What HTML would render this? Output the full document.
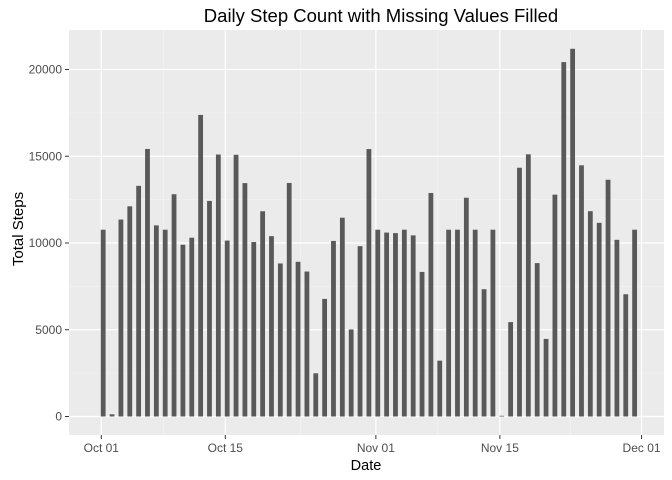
<!DOCTYPE html>
<html><head><meta charset="utf-8"><style>
body{margin:0;background:#fff;}
svg{display:block;font-family:"Liberation Sans",Arial,sans-serif;}
</style></head><body>
<svg id="chart" width="672" height="480">
<rect x="69" y="30" width="595" height="405" fill="#EBEBEB"/>
<g id="grid"></g><g id="bars"></g><g id="axes"></g>
<text x="381" y="22" text-anchor="middle" font-size="18.5" fill="#000">Daily Step Count with Missing Values Filled</text>
<text x="366" y="470" text-anchor="middle" font-size="14.5" fill="#000">Date</text>
<text x="23" y="229" text-anchor="middle" font-size="15" fill="#000" transform="rotate(-90 23 229)">Total Steps</text>
</svg>
<script>
const steps=[10766,126,11352,12116,13294,15420,11015,10766,12811,9900,10304,17382,12426,15098,10139,15084,13452,10056,11829,10395,8821,13460,8918,8355,2492,6778,10119,11458,5018,9819,15414,10766,10600,10571,10766,10439,8334,12883,3219,10766,10766,12608,10765,7336,10766,41,5441,14339,15110,8841,4472,12787,20427,21194,14478,11834,11162,13646,10183,7047,10766];
const yTicks=[0,5000,10000,15000,20000];
const xTickDays=[0,14,31,45,61];
const xTickLabels=["Oct 01","Oct 15","Nov 01","Nov 15","Dec 01"];
const NS="http://www.w3.org/2000/svg";
function x(d){return 101.3+d*8.857;}
function y(v){return 416.5-v*347/20000;}
function mk(tag,attrs,parent,txt){const e=document.createElementNS(NS,tag);for(const k in attrs)e.setAttribute(k,attrs[k]);if(txt!==undefined)e.textContent=txt;document.getElementById(parent).appendChild(e);return e;}
for(let i=0;i<yTicks.length-1;i++){const v=(yTicks[i]+yTicks[i+1])/2;const l=mk('line',{x1:69,x2:664,y1:y(v),y2:y(v),stroke:'#F5F5F5','stroke-width':0.6},'grid');

}
for(let i=0;i<xTickDays.length-1;i++){const d=(xTickDays[i]+xTickDays[i+1])/2;const l=mk('line',{x1:x(d),x2:x(d),y1:30,y2:435,stroke:'#F5F5F5','stroke-width':0.6},'grid');

}
yTicks.forEach(v=>{const l=mk('line',{x1:69,x2:664,y1:y(v),y2:y(v),stroke:'#fff','stroke-width':1.2},'grid');


mk('line',{x1:65,x2:69,y1:y(v),y2:y(v),stroke:'#333'},'axes');
const t=mk('text',{x:62,y:y(v)+4,'text-anchor':'end','font-size':12,fill:'#4D4D4D'},'axes',String(v));

});
xTickDays.forEach((d,i)=>{const l=mk('line',{x1:x(d),x2:x(d),y1:30,y2:435,stroke:'#fff','stroke-width':1.2},'grid');


mk('line',{x1:x(d),x2:x(d),y1:435,y2:439,stroke:'#333'},'axes');
const t=mk('text',{x:x(d),y:452,'text-anchor':'middle','font-size':12,fill:'#4D4D4D'},'axes',xTickLabels[i]);

});
steps.forEach((v,d)=>{const b=mk('rect',{x:x(d)-0.5,y:y(v),width:4.8,height:y(0)-y(v),fill:'#595959'},'bars');

});
</script>
</body></html>
